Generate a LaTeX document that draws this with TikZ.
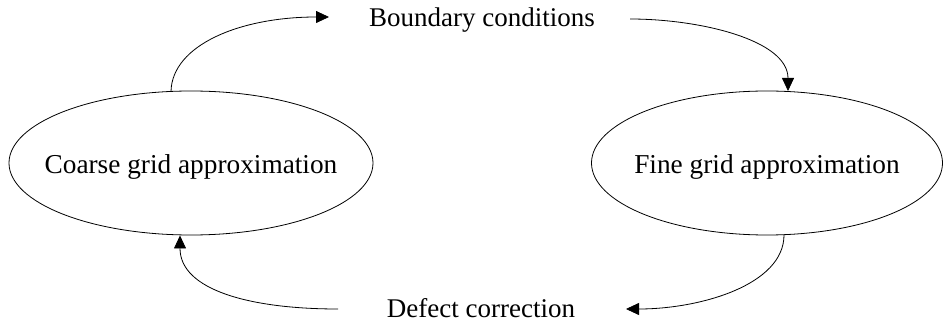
\documentclass[tikz,border=0pt]{standalone}
\usepackage{fontspec}
\setmainfont{Liberation Serif}
\usetikzlibrary{arrows.meta,calc}
\begin{document}
\begin{tikzpicture}[x=1pt,y=-1pt,
  lbl/.style={inner sep=0pt,anchor=base,font=\fontsize{27}{32}\selectfont},
  oval/.style={inner sep=0pt,font=\fontsize{27.3}{32}\selectfont},
  ring/.style={line width=0.8pt},
  link/.style={line width=0.8pt,-{Triangle[length=13pt,width=12pt]}}]
\useasboundingbox (0,0) rectangle (943,323);
\node[oval] (coarse) at (191,166.5) {Coarse grid approximation};
\node[oval] (fine) at (767,166.5) {Fine grid approximation};
\draw[ring] ($(coarse.center)+(0,-3.5)$) ellipse [x radius=182, y radius=72];
\draw[ring] ($(fine.center)+(0,-3.5)$) ellipse [x radius=175.5, y radius=72];
\node[lbl] (bc) at (482,27) {Boundary conditions};
\node[lbl] (dc) at (481,317) {Defect correction};
\coordinate (bcin) at (329,17);
\coordinate (bcout) at (630,19);
\coordinate (dcin) at (626,309);
\coordinate (dcout) at (338,309);
\coordinate (coarsetop) at (171,91.5);
\coordinate (finetop) at (788,91);
\coordinate (finebot) at (784,235);
\coordinate (coarsebot) at (180,235.5);
\draw[link] (coarsetop) .. controls (172,45) and (240,17) .. (bcin);
\draw[link] (bcout) .. controls (700,19) and (788,40) .. (finetop);
\draw[link] (finebot) .. controls (784,285) and (700,309) .. (dcin);
\draw[link] (dcout) .. controls (250,309) and (180,290) .. (coarsebot);
\end{tikzpicture}
\end{document}
